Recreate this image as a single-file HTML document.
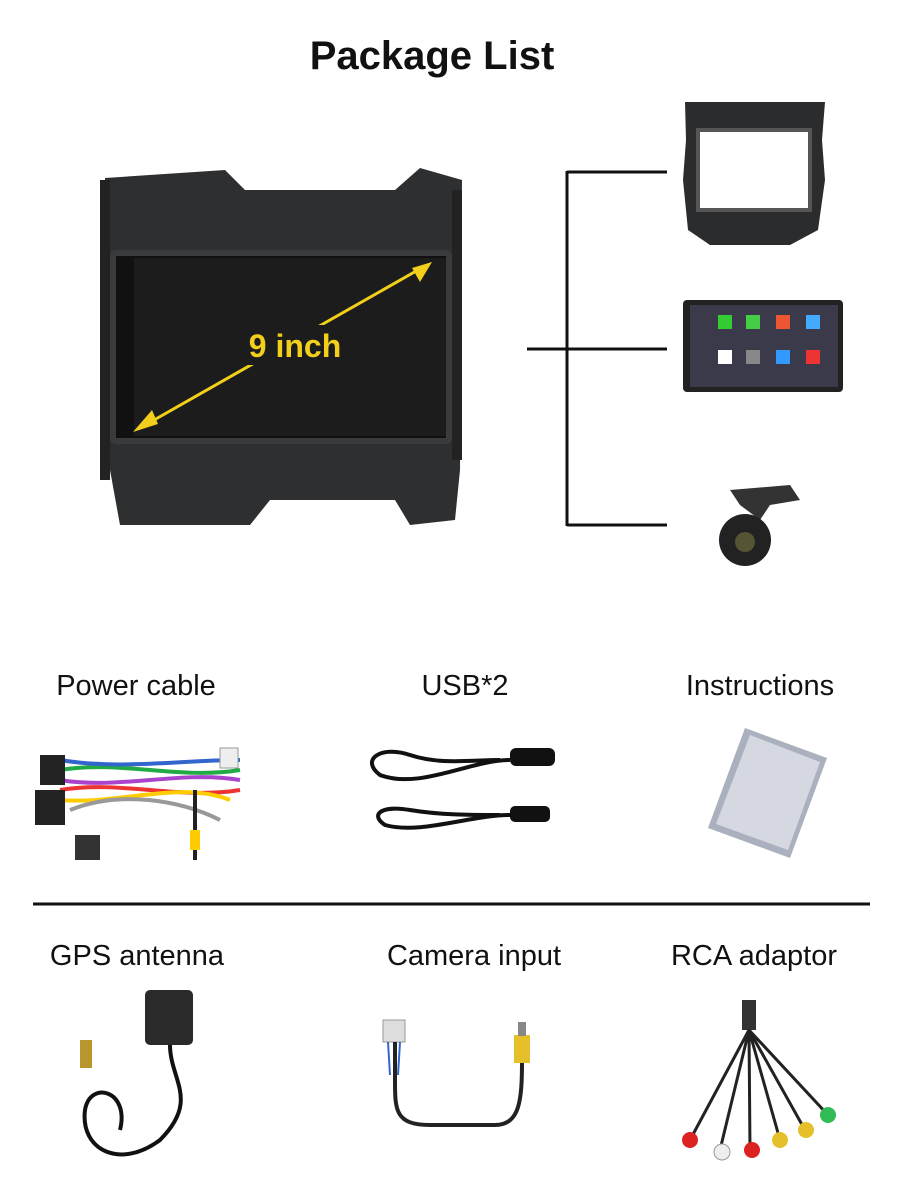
<!DOCTYPE html>
<html><head><meta charset="utf-8"><style>
body{margin:0;width:900px;height:1200px;background:#fff;position:relative;overflow:hidden;font-family:"Liberation Sans",sans-serif}
.t{position:absolute;transform:translateX(-50%);white-space:nowrap;color:#111;font-size:29px}
svg{position:absolute;left:0;top:0}
</style></head><body>
<div class="t" style="left:432px;top:34px;font-size:40px;font-weight:bold">Package List</div>
<div class="t" style="left:136px;top:670px">Power cable</div>
<div class="t" style="left:465px;top:670px">USB*2</div>
<div class="t" style="left:760px;top:670px">Instructions</div>
<div class="t" style="left:137px;top:940px">GPS antenna</div>
<div class="t" style="left:474px;top:940px">Camera input</div>
<div class="t" style="left:754px;top:940px">RCA adaptor</div>
<svg width="900" height="1200">
<!-- head unit frame -->
<path d="M105 178 L225 170 L245 190 L395 190 L420 168 L462 180 L460 470 L455 520 L410 525 L395 500 L270 500 L250 525 L120 525 L110 470 Z" fill="#2e2f31"/>
<rect x="100" y="180" width="10" height="300" fill="#222"/>
<rect x="452" y="190" width="10" height="270" fill="#222"/>
<rect x="110" y="250" width="342" height="194" rx="6" fill="#3a3b3d"/>
<rect x="116" y="256" width="330" height="182" fill="#111"/>
<rect x="134" y="258" width="312" height="178" fill="#1c1c1d"/>
<line x1="140" y1="428" x2="425" y2="266" stroke="#f1cf1a" stroke-width="3"/>
<polygon points="133,432 152,410 158,424" fill="#f1cf1a"/>
<polygon points="432,262 412,268 420,282" fill="#f1cf1a"/>
<rect x="240" y="325" width="110" height="40" fill="#1c1c1d"/>
<text x="295" y="357" font-size="32" font-weight="bold" fill="#f1cf1a" text-anchor="middle" font-family="Liberation Sans">9 inch</text>
<!-- connectors -->
<g stroke="#111" stroke-width="3" fill="none">
<line x1="527" y1="349" x2="567" y2="349"/>
<line x1="567" y1="171" x2="567" y2="526"/>
<line x1="567" y1="172" x2="667" y2="172"/>
<line x1="567" y1="349" x2="667" y2="349"/>
<line x1="567" y1="525" x2="667" y2="525"/>
</g>
<!-- frame -->
<path d="M685 102 L825 102 L822 140 L825 180 L818 230 L790 245 L710 245 L688 230 L683 180 L686 140 Z" fill="#2b2c2e"/>
<rect x="698" y="130" width="112" height="80" fill="#fff" stroke="#555" stroke-width="4"/>
<!-- carplay -->
<rect x="683" y="300" width="160" height="92" rx="4" fill="#222"/>
<rect x="690" y="305" width="148" height="82" fill="#3a3a4a"/>
<rect x="718" y="315" width="14" height="14" fill="#3c3"/><rect x="746" y="315" width="14" height="14" fill="#4c4"/><rect x="776" y="315" width="14" height="14" fill="#e53"/><rect x="806" y="315" width="14" height="14" fill="#4af"/>
<rect x="718" y="350" width="14" height="14" fill="#fff"/><rect x="746" y="350" width="14" height="14" fill="#888"/><rect x="776" y="350" width="14" height="14" fill="#39f"/><rect x="806" y="350" width="14" height="14" fill="#e33"/>
<!-- camera -->
<path d="M730 490 L790 485 L800 500 L770 505 L760 520 L740 505 Z" fill="#333"/>
<circle cx="745" cy="540" r="26" fill="#222"/><circle cx="745" cy="542" r="10" fill="#553"/>
<!-- separator -->
<line x1="33" y1="904" x2="870" y2="904" stroke="#111" stroke-width="3"/>
<!-- power cable -->
<g stroke-width="4" fill="none">
<path d="M60 770 C120 760 180 780 240 770" stroke="#2a4"/>
<path d="M60 780 C120 790 180 770 240 780" stroke="#a4c"/>
<path d="M60 790 C120 780 180 800 240 790" stroke="#e33"/>
<path d="M60 800 C120 805 180 780 230 800" stroke="#fc0"/>
<path d="M60 760 C120 770 180 760 240 760" stroke="#36c"/>
<path d="M70 810 C120 790 180 800 220 820" stroke="#999"/>
<path d="M195 790 L195 860" stroke="#222"/>
</g>
<rect x="40" y="755" width="25" height="30" fill="#222"/><rect x="35" y="790" width="30" height="35" fill="#222"/><rect x="75" y="835" width="25" height="25" fill="#333"/><rect x="220" y="748" width="18" height="20" fill="#eee" stroke="#999"/><rect x="190" y="830" width="10" height="20" fill="#fc0"/>
<!-- usb -->
<g stroke="#111" stroke-width="4" fill="none">
<path d="M510 760 C470 760 420 790 380 775 C360 760 380 745 410 755 C440 765 470 760 500 760"/>
<path d="M510 815 C470 815 420 835 385 825 C370 815 380 805 410 810 C440 815 470 815 500 815"/>
</g>
<rect x="510" y="748" width="45" height="18" rx="6" fill="#111"/><rect x="510" y="806" width="40" height="16" rx="5" fill="#111"/>
<!-- instructions -->
<polygon points="745,728 827,758 790,858 708,828" fill="#aab0bd"/>
<polygon points="750,735 820,762 788,850 716,824" fill="#d5d8e0"/>
<!-- gps -->
<rect x="145" y="990" width="48" height="55" rx="5" fill="#2a2a2a"/>
<path d="M170 1045 C170 1080 200 1100 160 1140 C120 1170 80 1150 85 1110 C90 1080 130 1090 120 1130" stroke="#111" stroke-width="4" fill="none"/>
<rect x="80" y="1040" width="12" height="28" fill="#b8962e"/>
<!-- camera input -->
<rect x="383" y="1020" width="22" height="22" fill="#ddd" stroke="#999"/>
<path d="M395 1042 L395 1080 C395 1110 395 1125 430 1125 L495 1125 C520 1125 522 1100 522 1060" stroke="#222" stroke-width="4" fill="none"/>
<path d="M388 1042 L390 1075 M400 1042 L398 1075" stroke="#36c" stroke-width="2"/>
<rect x="514" y="1035" width="16" height="28" fill="#e5c02a"/><rect x="518" y="1022" width="8" height="14" fill="#888"/>
<!-- rca -->
<rect x="742" y="1000" width="14" height="30" fill="#333"/>
<g stroke="#222" stroke-width="3" fill="none">
<path d="M749 1030 L690 1140"/><path d="M749 1030 L720 1150"/><path d="M749 1030 L750 1150"/><path d="M749 1030 L780 1140"/><path d="M749 1030 L805 1130"/><path d="M749 1030 L828 1115"/>
</g>
<circle cx="690" cy="1140" r="8" fill="#d22"/><circle cx="722" cy="1152" r="8" fill="#eee" stroke="#999"/><circle cx="752" cy="1150" r="8" fill="#d22"/><circle cx="780" cy="1140" r="8" fill="#e5c02a"/><circle cx="806" cy="1130" r="8" fill="#e5c02a"/><circle cx="828" cy="1115" r="8" fill="#3b5"/>
</svg>
</body></html>
